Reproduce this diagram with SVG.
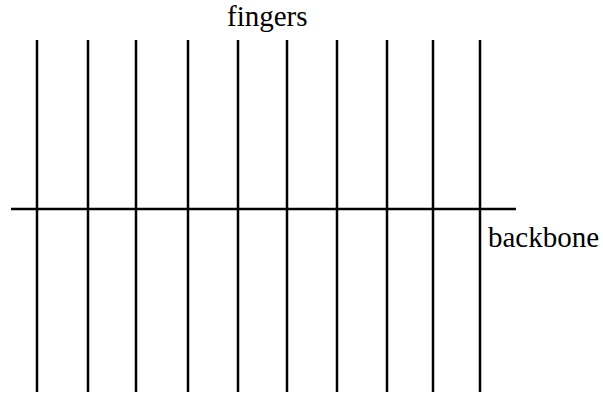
<svg xmlns="http://www.w3.org/2000/svg" width="603" height="396" viewBox="0 0 603 396">
<style>
.ln{stroke:#000;stroke-width:2.5;fill:none}
.lbl{font-family:"Liberation Serif","Times New Roman",serif;font-size:29px;fill:#000}
</style>
<rect width="603" height="396" fill="#fff"/>
<g id="connectors">
<line class="ln" x1="11" y1="209" x2="516" y2="209"/>
<line class="ln" x1="37" y1="40" x2="37" y2="392"/>
<line class="ln" x1="88" y1="40" x2="88" y2="392"/>
<line class="ln" x1="136" y1="40" x2="136" y2="392"/>
<line class="ln" x1="188" y1="40" x2="188" y2="392"/>
<line class="ln" x1="238" y1="40" x2="238" y2="392"/>
<line class="ln" x1="287" y1="40" x2="287" y2="392"/>
<line class="ln" x1="337" y1="40" x2="337" y2="392"/>
<line class="ln" x1="387" y1="40" x2="387" y2="392"/>
<line class="ln" x1="433" y1="40" x2="433" y2="392"/>
<line class="ln" x1="480" y1="40" x2="480" y2="392"/>
</g>
<g id="fingers"><text class="lbl" x="227" y="26">fingers</text></g>
<g id="backbone"><text class="lbl" x="488" y="247">backbone</text></g>
</svg>
